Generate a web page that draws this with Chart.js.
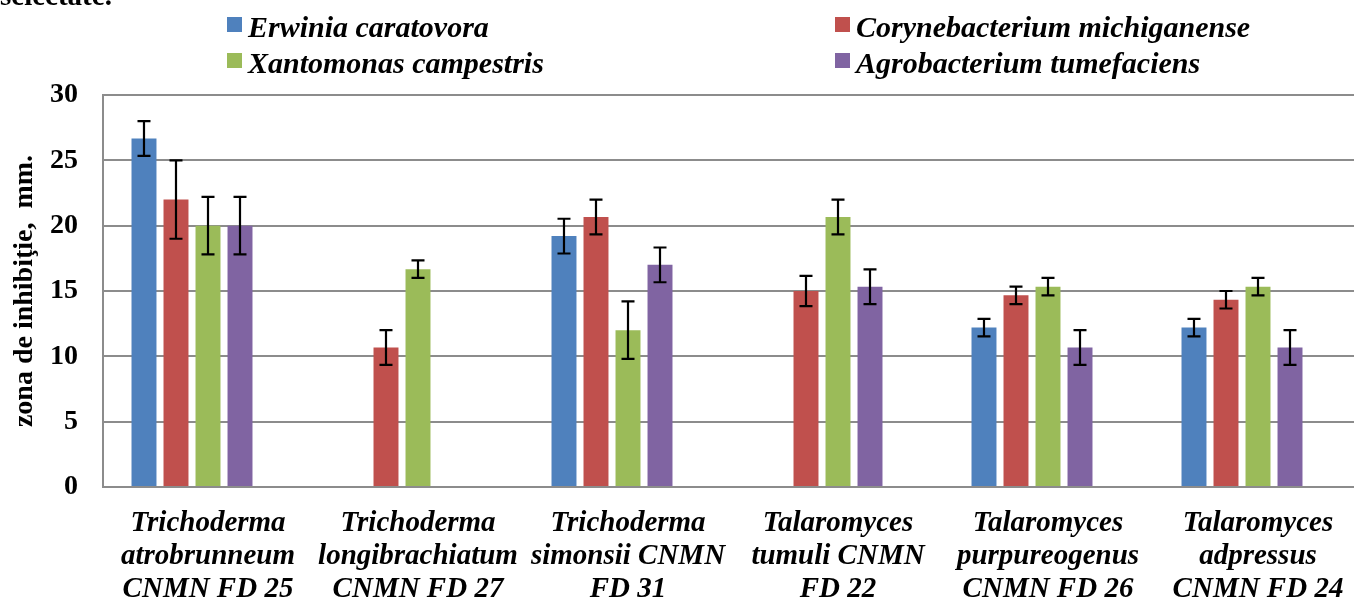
<!DOCTYPE html>
<html>
<head>
<meta charset="utf-8">
<script src="https://cdn.jsdelivr.net/npm/chart.js"></script>
<style>
  body { margin: 0; overflow: hidden; background: #fff; }
  #wrap { position: relative; width: 1370px; height: 603px; }
  #chart { position: absolute; left: 0; top: 0; }
  .doc { position: absolute; left: 0; top: -19px; font: bold 29px "Liberation Serif", serif; line-height: 29px; }
  .leg { position: absolute; font: italic bold 30px "Liberation Serif", serif; line-height: 36px; white-space: nowrap; padding-left: 21px; }
  .leg span { position: absolute; left: 0; top: 8px; width: 15px; height: 15px; }
</style>
</head>
<body>
<div id="wrap">
  <canvas id="chart" width="1370" height="603"></canvas>
  <div class="doc">selectate.</div>
  <div id="legend"></div>
</div>
<script>
// categories (three-line labels)
const strains = [
  ['Trichoderma', 'atrobrunneum', 'CNMN FD 25'],
  ['Trichoderma', 'longibrachiatum', 'CNMN FD 27'],
  ['Trichoderma', 'simonsii CNMN', 'FD 31'],
  ['Talaromyces', 'tumuli CNMN', 'FD 22'],
  ['Talaromyces', 'purpureogenus', 'CNMN FD 26'],
  ['Talaromyces', 'adpressus', 'CNMN FD 24']
]

const bacteria = ['Erwinia caratovora', 'Corynebacterium michiganense', 'Xantomonas campestris', 'Agrobacterium tumefaciens']
const colors = ['#4F81BD', '#C0504D', '#9BBB59', '#8064A2']

// zone of inhibition, mm
const erwinia = [26.67, null, 19.2, null, 12.2, 12.2]
const coryne = [22, 10.67, 20.67, 15, 14.67, 14.33]
const xantomonas = [20, 16.67, 12, 20.67, 15.33, 15.33]
const agro = [20, null, 17, 15.33, 10.67, 10.67]

// error bar half-widths
const erwiniaErr = [1.33, 0, 1.33, 0, 0.67, 0.67]
const coryneErr = [3, 1.33, 1.33, 1.15, 0.67, 0.67]
const xantomonasErr = [2.2, 0.67, 2.2, 1.33, 0.67, 0.67]
const agroErr = [2.2, 0, 1.33, 1.33, 1.33, 1.33]

const yTicks = [0, 5, 10, 15, 20, 25, 30]

const series = [erwinia, coryne, xantomonas, agro]
const errors = [erwiniaErr, coryneErr, xantomonasErr, agroErr]

// legend laid out 2 x 2 like the original
const legendPos = [[227, 9], [835, 9], [227, 45], [835, 45]]
const legend = document.getElementById('legend')
bacteria.forEach((name, i) => {
  const d = document.createElement('div')
  d.className = 'leg'
  d.style.left = legendPos[i][0] + 'px'
  d.style.top = legendPos[i][1] + 'px'
  d.innerHTML = '<span style="background:' + colors[i] + '"></span>' + name
  legend.appendChild(d)
})

const errorBars = {
  id: 'errorBars',
  afterDatasetsDraw(chart) {
    const ctx = chart.ctx
    const y = chart.scales.y
    ctx.save()
    ctx.strokeStyle = '#000'
    ctx.lineWidth = 2.2
    errors.forEach((errs, i) => {
      const meta = chart.getDatasetMeta(i)
      meta.data.forEach((bar, j) => {
        const v = series[i][j]
        if (v == null || !errs[j]) return
        const top = y.getPixelForValue(v + errs[j])
        const bot = y.getPixelForValue(v - errs[j])
        ctx.beginPath()
        ctx.moveTo(bar.x, top)
        ctx.lineTo(bar.x, bot)
        ctx.moveTo(bar.x - 6.5, top)
        ctx.lineTo(bar.x + 6.5, top)
        ctx.moveTo(bar.x - 6.5, bot)
        ctx.lineTo(bar.x + 6.5, bot)
        ctx.stroke()
      })
    })
    ctx.restore()
  }
}

const datasets = series.map((s, i) => ({
  label: bacteria[i],
  data: s,
  backgroundColor: colors[i],
  borderWidth: 0,
  categoryPercentage: 0.762,
  barPercentage: 0.78
}))
// empty fifth slot, as in the original chart
datasets.push({ label: '', data: strains.map(() => null), categoryPercentage: 0.762, barPercentage: 0.78 })

const gridGrey = '#8c8c8c'

new Chart(document.getElementById('chart'), {
  type: 'bar',
  data: { labels: strains, datasets: datasets },
  options: {
    responsive: false,
    animation: false,
    devicePixelRatio: 1,
    layout: { padding: { top: 95, right: 7, left: 0, bottom: 0 } },
    plugins: { legend: { display: false }, tooltip: { enabled: false } },
    scales: {
      x: {
        grid: { display: false, drawTicks: false },
        border: { display: true, color: gridGrey, width: 2 },
        ticks: {
          color: '#000',
          padding: 20,
          maxRotation: 0,
          autoSkip: false,
          font: { family: 'Liberation Serif', size: 29, style: 'italic', weight: 'bold', lineHeight: 1.14 }
        },
        afterFit: (axis) => { axis.height = 116 }
      },
      y: {
        min: 0,
        max: 30,
        afterBuildTicks: (axis) => { axis.ticks = yTicks.map((v) => ({ value: v })) },
        grid: { color: gridGrey, lineWidth: 2, drawTicks: false },
        border: { display: true, color: gridGrey, width: 2 },
        ticks: {
          color: '#000',
          padding: 25,
          font: { family: 'Liberation Serif', size: 28, weight: 'bold' }
        },
        title: {
          display: true,
          text: 'zona de inhibiţie,  mm.',
          color: '#000',
          padding: { top: 11, bottom: 0 },
          font: { family: 'Liberation Serif', size: 28, weight: 'bold', lineHeight: 1 }
        },
        afterFit: (axis) => { axis.width = 103 }
      }
    }
  },
  plugins: [errorBars]
})
</script>
</body>
</html>
